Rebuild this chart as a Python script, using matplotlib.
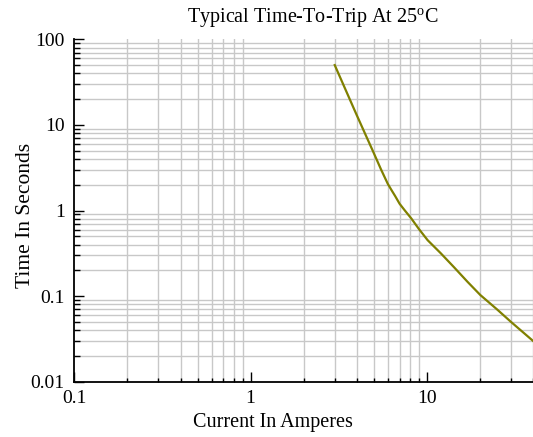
import matplotlib
matplotlib.use("Agg")
import matplotlib.pyplot as plt
from matplotlib.ticker import LogLocator, FixedFormatter, FixedLocator, NullFormatter

plt.rcParams['font.family'] = ['Liberation Serif', 'DejaVu Serif']
plt.rcParams['mathtext.fontset'] = 'custom'
plt.rcParams['mathtext.rm'] = 'Liberation Serif'

# time-to-trip curve
current = [3.0, 4.0, 4.95, 5.5, 6.0, 6.3, 6.6, 7.0, 7.5, 8.15, 9.0, 10.1,
           12.0, 14.3, 17.0, 20.1, 25.0, 30.0, 40.0]
seconds = [50.0, 13.0, 4.9, 3.0, 2.05, 1.73, 1.48, 1.2, 1.0, 0.81, 0.61, 0.45,
           0.316, 0.216, 0.147, 0.103, 0.07, 0.050, 0.030]

x_ticks = [0.1, 1, 10]
x_labels = ['0.1', '1', '10']
y_ticks = [0.01, 0.1, 1, 10, 100]
y_labels = ['0.01', '0.1', '1', '10', '100']

fig = plt.figure(figsize=(5.33, 4.37), dpi=100)
ax = fig.add_axes([0.1396, 0.1265, 0.8604, 0.7835])

ax.plot(current, seconds, color='#808000', lw=1.6, clip_on=False, zorder=3,
        solid_joinstyle='round')

ax.set_xscale('log')
ax.set_yscale('log')
ax.set_xlim(0.1, 40)
ax.set_ylim(0.01, 100)

ax.xaxis.set_major_locator(FixedLocator(x_ticks))
ax.xaxis.set_major_formatter(FixedFormatter(x_labels))
ax.yaxis.set_major_locator(FixedLocator(y_ticks))
ax.yaxis.set_major_formatter(FixedFormatter(y_labels))
ax.xaxis.set_minor_locator(LogLocator(base=10, subs=range(2, 10), numticks=20))
ax.yaxis.set_minor_locator(LogLocator(base=10, subs=range(2, 10), numticks=20))
ax.xaxis.set_minor_formatter(NullFormatter())
ax.yaxis.set_minor_formatter(NullFormatter())

# grid only on the minor positions, as in the original
ax.grid(False, which='major')
ax.grid(True, which='minor', color='#c8c8c8', lw=1.0)
ax.set_axisbelow(True)

ax.tick_params(which='major', direction='in', length=7, width=1, labelsize=14, pad=4)
ax.tick_params(axis='x', which='minor', direction='in', length=3, width=1)
ax.tick_params(axis='y', which='minor', direction='in', length=4, width=1)
ax.tick_params(axis='x', which='major', pad=6)
ax.tick_params(axis='y', which='major', pad=7)

for s in ['top', 'right']:
    ax.spines[s].set_visible(False)
for s in ['left', 'bottom']:
    ax.spines[s].set_linewidth(1.3)
    ax.spines[s].set_color('black')

ax.set_title('Typical Time-To-Trip At 25$^{\\mathrm{o}}$C', fontsize=14.5, pad=12, x=0.52)
ax.set_xlabel('Current In Amperes', fontsize=14.5)
ax.set_ylabel('Time In Seconds', fontsize=15.5)
ax.xaxis.set_label_coords(0.434, -0.092)
ax.yaxis.set_label_coords(-0.087, 0.485)

fig.savefig('out.png', dpi=100)
